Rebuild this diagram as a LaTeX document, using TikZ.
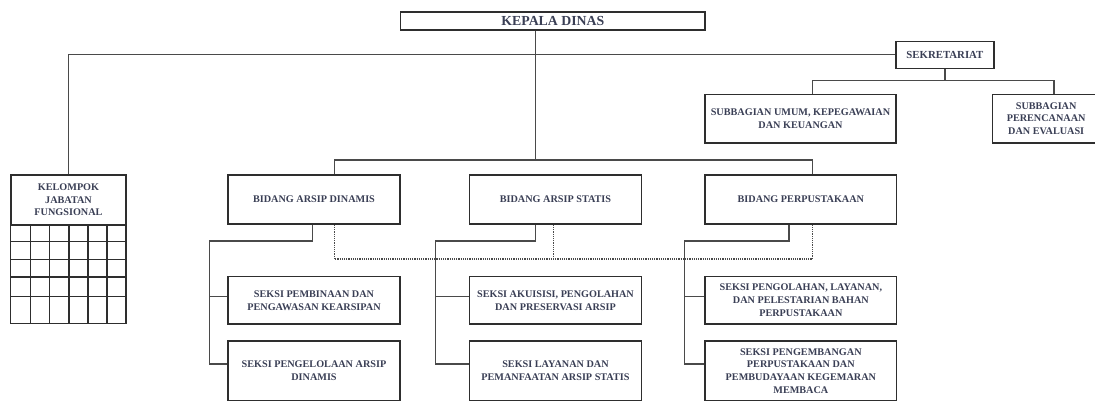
\documentclass[tikz,border=0pt]{standalone}
\usepackage{fontspec}
\setmainfont{Liberation Serif}
\usepackage{tikz}
\usetikzlibrary{calc}
\definecolor{ink}{HTML}{3A3F55}
\definecolor{frame}{HTML}{2E2E2E}
\definecolor{wire}{HTML}{4A4A4A}
\tikzset{
  orgbox/.style={draw=frame, line width=1.5pt, fill=white, text=ink, inner sep=0pt, align=center,
    font=\fontsize{10.2}{12.7}\selectfont\bfseries},
  conn/.style={draw=wire, line width=1.2pt},
  dotline/.style={draw=wire, line width=1.2pt, densely dotted},
  cell/.style={draw=frame, line width=1.2pt}
}

\begin{document}
\begin{tikzpicture}[x=1pt, y=-1pt]
  \useasboundingbox (0,0) rectangle (1095,401);
  \clip (0,0) rectangle (1095,401);

  % top level
  \node[orgbox, minimum width=304.3pt, minimum height=18pt, font=\fontsize{13.8}{15}\selectfont\bfseries] (kepala) at (552.85,21) {KEPALA DINAS};
  \node[orgbox, minimum width=98.2pt, minimum height=27pt, font=\fontsize{10.8}{13}\selectfont\bfseries] (sekre) at (944.9,54.8) {SEKRETARIAT};
  \node[orgbox, minimum width=191pt, minimum height=48.7pt] (umum) at (800.5,118.65) {SUBBAGIAN UMUM, KEPEGAWAIAN\\DAN KEUANGAN};
  \node[orgbox, minimum width=107.7pt, minimum height=48.7pt] (renc) at (1046.15,118.65) {SUBBAGIAN\\PERENCANAAN\\DAN EVALUASI};

  % kelompok jabatan fungsional
  \node[orgbox, minimum width=115pt, minimum height=49.5pt] (kjf) at (68.5,199.75) {KELOMPOK\\JABATAN\\FUNGSIONAL};
  \draw[cell] (kjf.south west) rectangle (126,323.5);
  \foreach \gx in {30.3,49.7,69,88,107}
    \draw[cell] (\gx,224.5) -- (\gx,323.5);
  \foreach \gy in {241.7,259.3,277,296.7}
    \draw[cell] (11,\gy) -- (126,\gy);

  % bidang
  \node[orgbox, minimum width=172pt, minimum height=49pt] (bad) at (314,199.5) {BIDANG ARSIP DINAMIS};
  \node[orgbox, minimum width=172.4pt, minimum height=49pt] (bas) at (555.5,199.5) {BIDANG ARSIP STATIS};
  \node[orgbox, minimum width=191.7pt, minimum height=49pt] (bp) at (800.85,199.5) {BIDANG PERPUSTAKAAN};

  % seksi
  \node[orgbox, minimum width=172pt, minimum height=47.3pt] (sbn) at (314,300.35) {SEKSI PEMBINAAN DAN\\PENGAWASAN KEARSIPAN};
  \node[orgbox, minimum width=172pt, minimum height=60pt] (spg) at (314,371) {SEKSI PENGELOLAAN ARSIP\\DINAMIS};
  \node[orgbox, minimum width=172.4pt, minimum height=47.3pt] (sak) at (555.5,300.35) {SEKSI AKUISISI, PENGOLAHAN\\DAN PRESERVASI ARSIP};
  \node[orgbox, minimum width=172.4pt, minimum height=60pt] (sly) at (555.5,371) {SEKSI LAYANAN DAN\\PEMANFAATAN ARSIP STATIS};
  \node[orgbox, minimum width=191.7pt, minimum height=47.3pt] (spl) at (800.85,300.35) {SEKSI PENGOLAHAN, LAYANAN,\\DAN PELESTARIAN BAHAN\\PERPUSTAKAAN};
  \node[orgbox, minimum width=191.7pt, minimum height=60pt] (spb) at (800.85,371) {SEKSI PENGEMBANGAN\\PERPUSTAKAAN DAN\\PEMBUDAYAAN KEGEMARAN\\MEMBACA};

  % bus points
  \coordinate (busmid) at (535.5,160);
  \coordinate (busl) at (334.3,160);
  \coordinate (busr) at (812.4,160);
  \coordinate (subl) at (812.4,80.7);
  \coordinate (subr) at (1054,80.7);
  \coordinate (dotl) at (334.3,259);
  \coordinate (dotm) at (553.7,259);
  \coordinate (dotr) at (812.4,259);

  % lines from the top
  \draw[conn] (kepala.south -| busmid) -- (busmid);
  \draw[conn] (kjf.north) -- (kjf.north |- sekre.west) -- (sekre.west);
  \draw[conn] (sekre.south) -- (sekre.south |- subl);
  \draw[conn] (umum.north -| subl) -- (subl) -- (subr) -- (renc.north -| subr);
  \draw[conn] (bad.north -| busl) -- (busl) -- (busr) -- (bp.north -| busr);

  % coordination (dotted)
  \draw[dotline] (bad.south -| dotl) -- (dotl) -- (dotr) -- (bp.south -| dotr);
  \draw[dotline] (bas.south -| dotm) -- (dotm);

  % bidang arsip dinamis
  \coordinate (adjoin) at (312.3,241);
  \coordinate (adfirst) at (209.3,296.7);
  \coordinate (adlast) at (209.3,364);
  \draw[conn] (bad.south -| adjoin) -- (adjoin) -| (adlast) -- (spg.west |- adlast);
  \draw[conn] (adfirst) -- (sbn.west |- adfirst);

  % bidang arsip statis
  \coordinate (asjoin) at (535.7,241);
  \coordinate (asfirst) at (435.7,296.7);
  \coordinate (aslast) at (435.7,364);
  \draw[conn] (bas.south -| asjoin) -- (asjoin) -| (aslast) -- (sly.west |- aslast);
  \draw[conn] (asfirst) -- (sak.west |- asfirst);

  % bidang perpustakaan
  \coordinate (pjoin) at (789,241);
  \coordinate (pfirst) at (684.3,296.7);
  \coordinate (plast) at (684.3,364);
  \draw[conn] (bp.south -| pjoin) -- (pjoin) -| (plast) -- (spb.west |- plast);
  \draw[conn] (pfirst) -- (spl.west |- pfirst);
\end{tikzpicture}
\end{document}
